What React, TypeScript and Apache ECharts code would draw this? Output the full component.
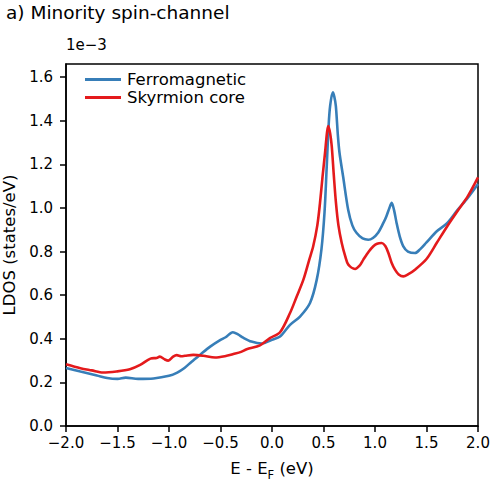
import React, { useEffect, useRef } from "react";
import * as echarts from "echarts";

// LDOS values are in units of 1e-3 states/eV
const energyFerro = [
  -2.0, -1.86, -1.7, -1.6, -1.5, -1.42, -1.3, -1.15, -1.0, -0.92, -0.85, -0.78, -0.7, -0.6,
  -0.5, -0.45, -0.38, -0.33, -0.28, -0.2, -0.1, 0.0, 0.078, 0.175, 0.272, 0.369, 0.434,
  0.48, 0.51, 0.53, 0.55, 0.565, 0.59, 0.605, 0.62, 0.64, 0.655, 0.69, 0.74, 0.78,
  0.82, 0.88, 0.935, 0.98, 1.03, 1.08, 1.11, 1.14, 1.162, 1.185, 1.21, 1.24, 1.275, 1.32,
  1.388, 1.437, 1.5, 1.6, 1.7, 1.8, 1.9, 2.0,
];
const ldosFerro = [
  0.266, 0.25, 0.232, 0.22, 0.216, 0.222, 0.216, 0.218, 0.23, 0.245, 0.266, 0.295, 0.326,
  0.364, 0.395, 0.407, 0.43, 0.42, 0.405, 0.387, 0.378, 0.395, 0.41, 0.464, 0.502, 0.564,
  0.67, 0.81, 0.98, 1.176, 1.38, 1.47, 1.53, 1.51, 1.467, 1.33, 1.254, 1.145, 0.99, 0.92,
  0.886, 0.86, 0.854, 0.862, 0.886, 0.93, 0.961, 1.0, 1.023, 0.99, 0.93, 0.87, 0.824, 0.8,
  0.793, 0.81, 0.842, 0.893, 0.93, 0.99, 1.046, 1.11,
];

const energySkyrmion = [
  -2.0, -1.86, -1.75, -1.64, -1.51, -1.38, -1.28, -1.18, -1.12, -1.09, -1.04, -1.007, -0.96,
  -0.925, -0.88, -0.845, -0.764, -0.667, -0.553, -0.44, -0.375, -0.3, -0.246, -0.117, -0.02,
  0.078, 0.175, 0.24, 0.304, 0.36, 0.4, 0.44, 0.466, 0.49, 0.515, 0.535, 0.547, 0.565, 0.58,
  0.6, 0.621, 0.645, 0.677, 0.71, 0.741, 0.806, 0.85, 0.887, 0.94, 0.984, 1.02, 1.065, 1.1,
  1.13, 1.16, 1.194, 1.23, 1.275, 1.32, 1.388, 1.5, 1.6, 1.7, 1.8, 1.9, 2.0,
];
const ldosSkyrmion = [
  0.283, 0.265, 0.255, 0.245, 0.25, 0.26, 0.28, 0.309, 0.312, 0.318, 0.305, 0.3, 0.318,
  0.325, 0.32, 0.322, 0.326, 0.322, 0.314, 0.322, 0.33, 0.34, 0.352, 0.37, 0.403, 0.43,
  0.518, 0.594, 0.67, 0.76, 0.824, 0.92, 1.023, 1.14, 1.253, 1.35, 1.375, 1.34, 1.283, 1.15,
  1.023, 0.92, 0.839, 0.78, 0.74, 0.72, 0.735, 0.763, 0.8, 0.824, 0.836, 0.839, 0.825,
  0.793, 0.75, 0.717, 0.695, 0.686, 0.695, 0.717, 0.766, 0.84, 0.915, 0.985, 1.053, 1.14,
];

const yTicks = [0, 0.2, 0.4, 0.6, 0.8, 1.0, 1.2, 1.4, 1.6];
const seriesNames = ["Ferromagnetic", "Skyrmion core"];
const seriesColors = ["#377eb8", "#e41a1c"];

const FONT = "DejaVu Sans";

const fmt = (v: number) => (v < 0 ? "\u2212" + Math.abs(v).toFixed(1) : v.toFixed(1));

export default function App() {
  const ref = useRef<HTMLDivElement>(null);

  useEffect(() => {
    if (!ref.current) return;
    const chart = echarts.init(ref.current, null, { renderer: "svg" });

    const pairs = (xs: number[], ys: number[]) => xs.map((x, i) => [x, ys[i]]);

    chart.setOption({
      animation: false,
      backgroundColor: "#ffffff",
      textStyle: { fontFamily: FONT },
      title: {
        text: "a) Minority spin-channel",
        left: 1,
        top: -2,
        textStyle: { fontFamily: FONT, fontSize: 18.5, fontWeight: "normal", color: "#000" },
      },
      graphic: [
        {
          type: "text",
          left: 66,
          top: 37,
          style: { text: "1e\u22123", fontFamily: FONT, fontSize: 15, fill: "#000" },
        },
      ],
      legend: {
        orient: "vertical",
        left: 80,
        top: 66,
        itemWidth: 36,
        itemHeight: 3,
        itemGap: 1,
        icon: "rect",
        data: seriesNames,
        textStyle: {
          fontFamily: FONT,
          fontSize: 16.5,
          color: "#000",
          padding: [0, 0, 0, 1],
        },
      },
      grid: {
        left: 66,
        right: 12,
        top: 64,
        bottom: 58,
        show: true,
        borderColor: "#000",
        borderWidth: 1.5,
        containLabel: false,
        outerBoundsMode: "none",
      },
      xAxis: {
        type: "value",
        min: -2,
        max: 2,
        interval: 0.5,
        name: "{n|E - E}{sub|F}{n| (eV)}",
        nameLocation: "middle",
        nameGap: 34,
        nameTextStyle: {
          fontFamily: FONT,
          fontSize: 16.5,
          color: "#000",
          rich: {
            n: { fontFamily: FONT, fontSize: 16.5, color: "#000", lineHeight: 20, verticalAlign: "top" },
            sub: {
              fontFamily: FONT,
              fontSize: 11.5,
              color: "#000",
              lineHeight: 14,
              verticalAlign: "top",
              padding: [9, 0, 0, 0],
            },
          },
        },
        axisLine: { onZero: false, lineStyle: { color: "#000", width: 1.5 } },
        axisTick: { inside: false, length: 6, lineStyle: { color: "#000", width: 1.5 } },
        axisLabel: { fontFamily: FONT, fontSize: 15, color: "#000", margin: 9, formatter: fmt },
        splitLine: { show: false },
      },
      yAxis: {
        type: "value",
        min: 0,
        max: 1.66,
        name: "LDOS (states/eV)",
        nameLocation: "middle",
        nameGap: 48,
        nameTextStyle: { fontFamily: FONT, fontSize: 16.5, color: "#000" },
        axisLine: { onZero: false, lineStyle: { color: "#000", width: 1.5 } },
        axisTick: {
          inside: false,
          length: 6,
          customValues: yTicks,
          lineStyle: { color: "#000", width: 1.5 },
        },
        axisLabel: {
          fontFamily: FONT,
          fontSize: 15,
          color: "#000",
          margin: 13,
          customValues: yTicks,
          formatter: fmt,
        },
        splitLine: { show: false },
      },
      series: [
        {
          name: seriesNames[0],
          type: "line",
          data: pairs(energyFerro, ldosFerro),
          smooth: 0.3,
          symbol: "none",
          color: seriesColors[0],
          lineStyle: { color: seriesColors[0], width: 2.6 },
        },
        {
          name: seriesNames[1],
          type: "line",
          data: pairs(energySkyrmion, ldosSkyrmion),
          smooth: 0.3,
          symbol: "none",
          color: seriesColors[1],
          lineStyle: { color: seriesColors[1], width: 2.6 },
        },
      ],
    });

    return () => chart.dispose();
  }, []);

  return <div ref={ref} style={{ width: 490, height: 484, position: "absolute", left: 0, top: 0 }} />;
}
